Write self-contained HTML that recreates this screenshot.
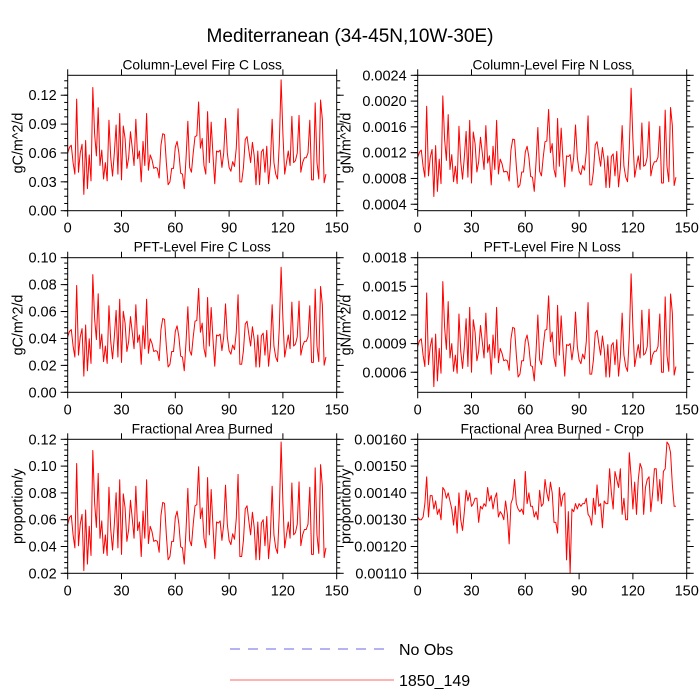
<!DOCTYPE html>
<html><head><meta charset="utf-8"><style>
html,body{margin:0;padding:0;background:#fff;}
svg{display:block;font-family:"Liberation Sans",sans-serif;}
</style></head><body>
<svg id="chart" width="700" height="700" viewBox="0 0 700 700">
<text x="350" y="42" text-anchor="middle" font-size="19">Mediterranean (34-45N,10W-30E)</text>
<g>
<line x1="230" y1="649" x2="388" y2="649" stroke="#6a6ae6" stroke-width="1" stroke-dasharray="10,8"/>
<text x="399" y="655" font-size="16">No Obs</text>
<line x1="230" y1="680" x2="394" y2="680" stroke="#ff6666" stroke-width="1"/>
<text x="399" y="686" font-size="16">1850_149</text>
</g>
</svg>
<script>
const xTicks=[0,30,60,90,120,150];
const colC=[60,66,68,50,38,116,40,60,69,17,73,23,58,31,128,80,57,107,47,63,33,50,31,94,55,36,60,89,38,101,32,88,75,44,55,82,65,47,95,54,62,30,72,47,101,42,58,53,44,45,44,34,68,80,79,50,27,30,44,44,66,72,60,39,38,23,55,93,45,40,60,77,78,113,65,75,47,38,103,50,92,58,28,62,61,63,45,60,96,60,45,41,51,46,65,106,30,30,45,74,77,63,50,71,57,27,62,27,61,64,40,67,28,48,95,50,38,33,70,136,80,38,50,62,47,98,50,52,60,99,40,50,55,55,60,94,32,32,112,50,33,115,95,29,38];
const colN=[11.3,12.1,12.4,9.9,8.2,19.2,8.4,11.3,12.5,5.2,13.1,6.0,11.0,7.2,20.8,14.1,10.8,17.9,9.4,11.7,7.5,9.9,7.2,16.1,10.6,7.9,11.3,15.3,8.2,17.0,7.3,15.2,13.4,9.0,10.6,14.4,12.0,9.4,16.2,10.4,11.5,7.0,13.0,9.4,17.0,8.7,11.0,10.3,9.0,9.1,9.0,7.6,12.4,14.1,14.0,9.9,6.6,7.0,9.0,9.0,12.1,13.0,11.3,8.3,8.2,6.0,10.6,15.9,9.1,8.4,11.3,13.7,13.8,18.7,12.0,13.4,9.4,8.2,17.3,9.9,15.8,11.0,6.7,11.5,11.4,11.7,9.1,11.3,16.3,11.3,9.1,8.6,10.0,9.3,12.0,17.7,7.0,7.0,9.1,13.2,13.7,11.7,9.9,12.8,10.8,6.6,11.5,6.6,11.4,11.8,8.4,12.2,6.7,9.6,16.2,9.9,8.2,7.5,12.7,22.0,14.1,8.2,9.9,11.5,9.4,16.6,9.9,10.1,11.3,16.8,8.4,9.9,10.6,10.6,11.3,16.1,7.3,7.3,18.6,9.9,7.5,19.0,16.2,6.9,8.2];
const pftC=[41.2,45.3,46.6,34.4,26.2,79.3,27.6,41.2,47.3,12,50,16,39.8,21.5,87.4,54.8,39.2,73.2,32.4,43.2,22.8,34.4,21.5,64.3,37.8,24.9,41.2,60.9,26.2,69.1,22.2,60.2,51.4,30.3,37.8,56.2,44.6,32.4,65,37.1,42.6,20.8,49.4,32.4,69.1,29,39.8,36.4,30.3,31,30.3,23.5,46.6,54.8,54.1,34.4,18.8,20.8,30.3,30.3,45.3,49.4,41.2,26.9,26.2,16,37.8,63.6,31,27.6,41.2,52.8,53.4,77.2,44.6,51.4,32.4,26.2,70.4,34.4,63,39.8,19.4,42.6,41.9,43.2,31,41.2,65.7,41.2,31,28.3,35.1,31.7,44.6,72.5,20.8,20.8,31,50.7,52.8,43.2,34.4,48.7,39.2,18.8,42.6,18.8,41.9,43.9,27.6,46,19.4,33,65,34.4,26.2,22.8,48,92.9,54.8,26.2,34.4,42.6,32.4,67,34.4,35.8,41.2,67.7,27.6,34.4,37.8,37.8,41.2,64.3,22.2,22.2,76.6,34.4,22.8,78.6,65,20.1,26.2];
const pftN=[8.7,9.3,9.5,7.8,6.6,14.3,6.8,8.7,9.6,4.5,10,5.1,8.5,5.9,15.5,10.7,8.4,13.4,7.5,9,6.1,7.8,5.9,12.1,8.2,6.4,8.7,11.6,6.6,12.8,6,11.5,10.2,7.2,8.2,10.9,9.2,7.5,12.2,8.1,8.9,5.8,9.9,7.5,12.8,7,8.5,8,7.2,7.3,7.2,6.2,9.5,10.7,10.6,7.8,5.5,5.8,7.2,7.2,9.3,9.9,8.7,6.7,6.6,5.1,8.2,12,7.3,6.8,8.7,10.4,10.5,14,9.2,10.2,7.5,6.6,13,7.8,11.9,8.5,5.6,8.9,8.8,9,7.3,8.7,12.3,8.7,7.3,6.9,7.9,7.4,9.2,13.3,5.8,5.8,7.3,10.1,10.4,9,7.8,9.8,8.4,5.5,8.9,5.5,8.8,9.1,6.8,9.4,5.6,7.6,12.2,7.8,6.6,6.1,9.7,16.3,10.7,6.6,7.8,8.9,7.5,12.5,7.8,8,8.7,12.6,6.8,7.8,8.2,8.2,8.7,12.1,6,6,13.9,7.8,6.1,14.2,12.2,5.7,6.6];
const fracArea=[56.7,61.6,63.2,48.7,39,101.9,40.6,56.7,64,22,67.2,26.9,55.1,33.3,111.6,72.9,54.3,94.6,46.2,59.1,34.9,48.7,33.3,84.2,52.7,37.4,56.7,80.1,39,89.8,34.1,79.3,68.8,43.8,52.7,74.5,60.8,46.2,85,51.9,58.3,32.5,66.4,46.2,89.8,42.2,55.1,51.1,43.8,44.6,43.8,35.7,63.2,72.9,72.1,48.7,30.1,32.5,43.8,43.8,61.6,66.4,56.7,39.8,39,26.9,52.7,83.4,44.6,40.6,56.7,70.4,71.2,99.5,60.8,68.8,46.2,39,91.4,48.7,82.5,55.1,30.9,58.3,57.5,59.1,44.6,56.7,85.8,56.7,44.6,41.4,49.5,45.4,60.8,93.8,32.5,32.5,44.6,68,70.4,59.1,48.7,65.6,54.3,30.1,58.3,30.1,57.5,60,40.6,62.4,30.9,47,85,48.7,39,34.9,64.8,118,72.9,39,48.7,58.3,46.2,87.4,48.7,50.3,56.7,88.2,40.6,48.7,52.7,52.7,56.7,84.2,34.1,34.1,98.7,48.7,34.9,101.1,85,31.7,39];
const fracCrop=[131,130,130,131,136,146,131,139,139,134,137,132,134,130,142,141,138,140,137,134,128,135,125,140,130,126,133,141,137,140,135,136,138,138,129,135,134,136,135,142,137,139,134,138,140,131,133,132,130,137,132,121,136,138,145,136,134,133,134,132,148,136,140,135,135,131,133,130,141,135,136,145,140,137,144,140,129,129,125,142,135,139,140,115,133,110,134,133,136,134,136,135,136,136,138,132,131,128,138,132,143,135,136,127,137,136,136,149,140,134,148,145,142,149,132,138,130,130,155,146,134,144,132,145,151,149,132,142,145,146,133,140,149,149,137,145,136,148,149,159,158,155,143,135,135];
const yTicks1=[0,0.03,0.06,0.09,0.12];
const yTicks2=[0.0004,0.0008,0.0012,0.0016,0.0020,0.0024];
const yTicks3=[0,0.02,0.04,0.06,0.08,0.10];
const yTicks4=[0.0006,0.0009,0.0012,0.0015,0.0018];
const yTicks5=[0.02,0.04,0.06,0.08,0.10,0.12];
const yTicks6=[0.0011,0.0012,0.0013,0.0014,0.0015,0.0016];

const NS='http://www.w3.org/2000/svg';
const svg=document.getElementById('chart');
function mk(tag,attrs,parent){const e=document.createElementNS(NS,tag);for(const k in attrs)e.setAttribute(k,attrs[k]);(parent||svg).appendChild(e);return e;}

const panels=[
 {id:'column-c-loss',title:'Column-Level Fire C Loss',yt:'gC/m^2/d',data:colC,unit:0.001,ymin:0,ymax:0.1407,ticks:yTicks1,dec:2,col:0,row:0,minor:3},
 {id:'column-n-loss',title:'Column-Level Fire N Loss',yt:'gN/m^2/d',data:colN,unit:0.0001,ymin:0.0003,ymax:0.0024,ticks:yTicks2,dec:4,col:1,row:0,minor:4},
 {id:'pft-c-loss',title:'PFT-Level Fire C Loss',yt:'gC/m^2/d',data:pftC,unit:0.001,ymin:0,ymax:0.1,ticks:yTicks3,dec:2,col:0,row:1,minor:4},
 {id:'pft-n-loss',title:'PFT-Level Fire N Loss',yt:'gN/m^2/d',data:pftN,unit:0.0001,ymin:0.00039,ymax:0.0018,ticks:yTicks4,dec:4,col:1,row:1,minor:3},
 {id:'fractional-area-burned',title:'Fractional Area Burned',yt:'proportion/y',data:fracArea,unit:0.001,ymin:0.02,ymax:0.12,ticks:yTicks5,dec:2,col:0,row:2,minor:4},
 {id:'fractional-area-burned-crop',title:'Fractional Area Burned - Crop',yt:'proportion/y',data:fracCrop,unit:0.00001,ymin:0.0011,ymax:0.0016,ticks:yTicks6,dec:5,col:1,row:2,minor:4}
];
const rows=[[75.3,210.7],[257.7,392.3],[439.3,573.3]];
panels.forEach(p=>{
 const x0=67.7+p.col*350,x1=336.7+p.col*350;
 const y0=rows[p.row][0],y1=rows[p.row][1];
 const xs=v=>x0+(v-0)/(150-0)*(x1-x0);
 const ys=v=>y1-(v-p.ymin)/(p.ymax-p.ymin)*(y1-y0);
 const g=mk('g',{});
 
 
 const t=mk('text',{x:(x0+x1)/2,y:y0-6,'text-anchor':'middle','font-size':13.8},g);
 t.textContent=p.title;
 
 
 const off=p.col===0?50:72;
 const yt=mk('text',{x:0,y:0,'text-anchor':'middle','font-size':14.3,transform:`translate(${x0-off+5},${(y0+y1)/2}) rotate(-90)`},g);
 yt.textContent=p.yt;
 
 
 xTicks.forEach(v=>{
  const X=xs(v);
  mk('line',{x1:X,y1:y1,x2:X,y2:y1+6,stroke:'#000','stroke-width':1},g);
  mk('line',{x1:X,y1:y0,x2:X,y2:y0-6,stroke:'#000','stroke-width':1},g);
  const l=mk('text',{x:X,y:y1+22,'text-anchor':'middle','font-size':14.5},g);
  l.textContent=String(v);
  
  
 });
 const step=p.ticks[1]-p.ticks[0];
 const ms=step/(p.minor+1);
 for(let v=p.ticks[0]-step;v<=p.ymax+1e-12;v+=ms){
  if(v<p.ymin-1e-12)continue;
  const Y=ys(v);
  mk('line',{x1:x0,y1:Y,x2:x0-3.5,y2:Y,stroke:'#000','stroke-width':1},g);
  mk('line',{x1:x1,y1:Y,x2:x1+3.5,y2:Y,stroke:'#000','stroke-width':1},g);
 }
 p.ticks.forEach(v=>{
  const Y=ys(v);
  mk('line',{x1:x0,y1:Y,x2:x0-7,y2:Y,stroke:'#000','stroke-width':1},g);
  mk('line',{x1:x1,y1:Y,x2:x1+7,y2:Y,stroke:'#000','stroke-width':1},g);
  const l=mk('text',{x:x0-11,y:Y+5,'text-anchor':'end','font-size':14.5},g);
  l.textContent=v.toFixed(p.dec);
  
  
 });
 const pts=p.data.map((v,i)=>xs(i).toFixed(2)+','+ys(v*p.unit).toFixed(2)).join(' ');
 const pl=mk('polyline',{points:pts,fill:'none',stroke:'#ff0000','stroke-width':1,'stroke-linejoin':'round'},g);
 
 
 const fr=mk('rect',{x:x0,y:y0,width:x1-x0,height:y1-y0,fill:'none',stroke:'#000','stroke-width':1},g);
 
 
});
</script>
</body></html>
